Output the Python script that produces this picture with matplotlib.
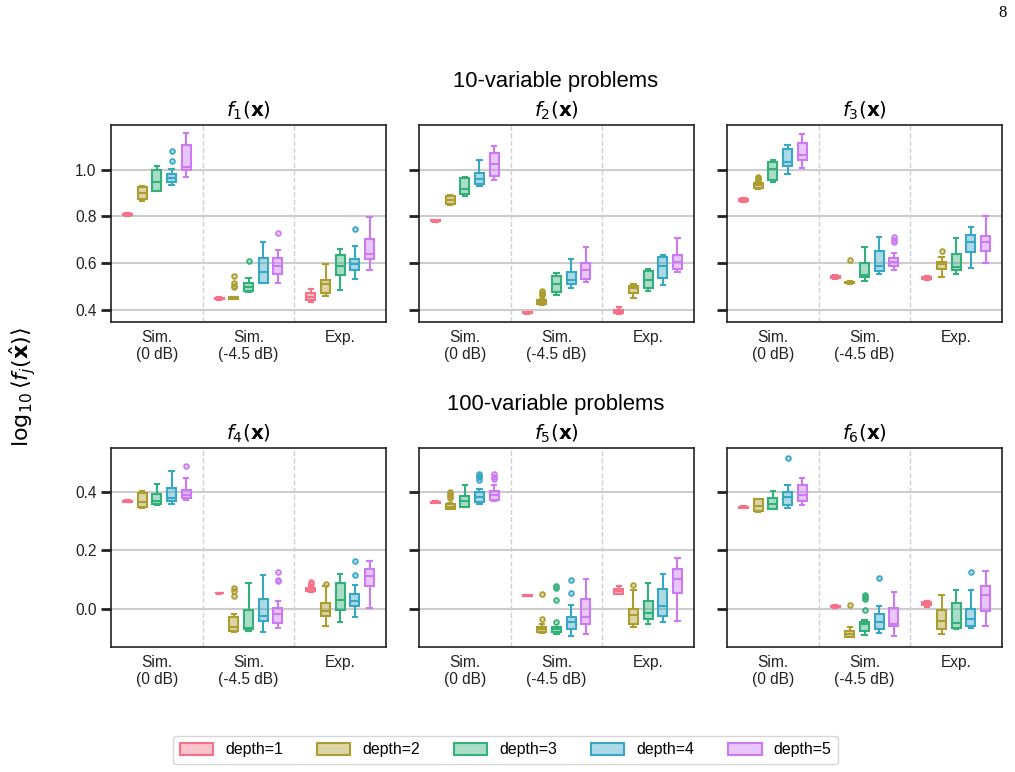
import matplotlib
matplotlib.use("Agg")
import matplotlib.pyplot as plt
from matplotlib.colors import to_rgba
from matplotlib.patches import Patch

plt.rcParams['font.family'] = ['Liberation Sans', 'DejaVu Sans']
plt.rcParams['mathtext.fontset'] = 'dejavusans'

groups = ["Sim.\n(0 dB)", "Sim.\n(-4.5 dB)", "Exp."]
depths = ["depth=1", "depth=2", "depth=3", "depth=4", "depth=5"]
colors = ['#f77189', '#ab9d30', '#33b07a', '#38a7c4', '#cc79f4']

# box stats per panel: [group][depth] -> (whislo, q1, med, q3, whishi)
f1_stats = [
    [(0.800, 0.805, 0.808, 0.812, 0.815), (0.868, 0.874, 0.900, 0.924, 0.931),
     (0.910, 0.910, 0.946, 0.997, 1.017), (0.933, 0.946, 0.964, 0.982, 1.003),
     (0.967, 1.000, 1.013, 1.106, 1.154)],
    [(0.445, 0.447, 0.450, 0.453, 0.455), (0.447, 0.449, 0.452, 0.456, 0.458),
     (0.477, 0.483, 0.500, 0.515, 0.539), (0.515, 0.515, 0.565, 0.622, 0.689),
     (0.517, 0.553, 0.590, 0.624, 0.657)],
    [(0.436, 0.443, 0.456, 0.472, 0.490), (0.462, 0.472, 0.510, 0.529, 0.596),
     (0.485, 0.550, 0.590, 0.636, 0.663), (0.532, 0.572, 0.596, 0.617, 0.675),
     (0.572, 0.620, 0.639, 0.703, 0.796)],
]
f1_fliers = {(0, 3): [1.037, 1.077], (1, 1): [0.500, 0.505, 0.515, 0.546],
             (1, 2): [0.610], (1, 4): [0.731], (2, 3): [0.746]}

f2_stats = [
    [(0.777, 0.779, 0.781, 0.783, 0.785), (0.847, 0.853, 0.871, 0.886, 0.891),
     (0.889, 0.897, 0.917, 0.964, 0.969), (0.929, 0.940, 0.960, 0.986, 1.039),
     (0.956, 0.974, 1.024, 1.072, 1.100)],
    [(0.385, 0.387, 0.389, 0.391, 0.393), (0.423, 0.425, 0.434, 0.443, 0.447),
     (0.465, 0.480, 0.510, 0.546, 0.560), (0.493, 0.510, 0.529, 0.565, 0.617),
     (0.519, 0.534, 0.572, 0.603, 0.669)],
    [(0.386, 0.390, 0.395, 0.400, 0.412), (0.453, 0.472, 0.493, 0.503, 0.510),
     (0.483, 0.493, 0.529, 0.567, 0.577), (0.506, 0.537, 0.590, 0.626, 0.636),
     (0.562, 0.575, 0.607, 0.636, 0.707)],
]
f2_fliers = {(1, 1): [0.465, 0.470, 0.475, 0.483]}

f3_stats = [
    [(0.862, 0.866, 0.871, 0.875, 0.878), (0.918, 0.920, 0.933, 0.943, 0.945),
     (0.949, 0.957, 1.003, 1.033, 1.040), (0.983, 1.014, 1.031, 1.089, 1.104),
     (1.007, 1.042, 1.060, 1.114, 1.151)],
    [(0.535, 0.538, 0.543, 0.547, 0.550), (0.514, 0.516, 0.519, 0.522, 0.524),
     (0.526, 0.540, 0.550, 0.600, 0.669), (0.555, 0.569, 0.589, 0.654, 0.714),
     (0.572, 0.590, 0.606, 0.623, 0.643)],
    [(0.528, 0.532, 0.538, 0.544, 0.548), (0.543, 0.576, 0.597, 0.607, 0.629),
     (0.555, 0.572, 0.586, 0.639, 0.709), (0.582, 0.647, 0.693, 0.722, 0.753),
     (0.603, 0.653, 0.689, 0.717, 0.804)],
]
f3_fliers = {(0, 1): [0.950, 0.958, 0.963, 0.969], (1, 1): [0.615],
             (1, 4): [0.689, 0.700, 0.712], (2, 1): [0.653]}

f4_stats = [
    [(0.364, 0.366, 0.368, 0.370, 0.372), (0.346, 0.349, 0.364, 0.397, 0.402),
     (0.355, 0.357, 0.368, 0.394, 0.428), (0.360, 0.368, 0.380, 0.414, 0.473),
     (0.372, 0.380, 0.391, 0.408, 0.446)],
    [(0.052, 0.053, 0.054, 0.055, 0.056), (-0.078, -0.076, -0.061, -0.027, -0.016),
     (-0.074, -0.070, -0.065, -0.005, 0.090), (-0.077, -0.042, -0.025, 0.034, 0.117),
     (-0.065, -0.048, -0.016, 0.005, 0.026)],
    [(0.058, 0.060, 0.066, 0.071, 0.078), (-0.057, -0.025, -0.006, 0.020, 0.080),
     (-0.044, -0.002, 0.032, 0.088, 0.120), (-0.029, 0.009, 0.028, 0.051, 0.083),
     (0.003, 0.079, 0.112, 0.136, 0.164)],
]
f4_fliers = {(0, 4): [0.489], (1, 1): [0.046, 0.060, 0.073],
             (1, 4): [0.094, 0.100, 0.128], (2, 0): [0.085, 0.092],
             (2, 1): [0.085], (2, 3): [0.117, 0.164]}

f5_stats = [
    [(0.362, 0.363, 0.365, 0.367, 0.368), (0.341, 0.343, 0.350, 0.358, 0.362),
     (0.349, 0.349, 0.369, 0.385, 0.425), (0.357, 0.364, 0.381, 0.398, 0.411),
     (0.368, 0.372, 0.389, 0.403, 0.423)],
    [(0.044, 0.045, 0.046, 0.047, 0.048), (-0.082, -0.080, -0.070, -0.063, -0.051),
     (-0.085, -0.077, -0.068, -0.063, -0.060), (-0.091, -0.068, -0.045, -0.029, 0.015),
     (-0.084, -0.053, -0.027, 0.034, 0.103)],
    [(0.050, 0.052, 0.060, 0.068, 0.080), (-0.063, -0.053, -0.019, 0.000, 0.066),
     (-0.053, -0.034, -0.014, 0.026, 0.090), (-0.045, -0.025, 0.011, 0.069, 0.120),
     (-0.040, 0.054, 0.103, 0.136, 0.173)],
]
f5_fliers = {(0, 1): [0.378, 0.385, 0.392, 0.398], (0, 3): [0.440, 0.450, 0.455, 0.462],
             (0, 4): [0.445, 0.452, 0.462], (1, 1): [-0.033, 0.051],
             (1, 2): [-0.045, 0.029, 0.070, 0.077], (1, 3): [0.055, 0.100],
             (2, 1): [0.083]}

f6_stats = [
    [(0.344, 0.346, 0.348, 0.350, 0.352), (0.333, 0.335, 0.352, 0.375, 0.377),
     (0.341, 0.343, 0.360, 0.380, 0.403), (0.346, 0.355, 0.381, 0.398, 0.423),
     (0.354, 0.369, 0.391, 0.425, 0.449)],
    [(0.004, 0.006, 0.009, 0.011, 0.013), (-0.096, -0.095, -0.084, -0.076, -0.060),
     (-0.090, -0.074, -0.053, -0.044, -0.037), (-0.083, -0.068, -0.045, -0.017, 0.010),
     (-0.093, -0.059, -0.051, 0.003, 0.058)],
    [(0.008, 0.012, 0.019, 0.024, 0.026), (-0.084, -0.070, -0.042, -0.005, 0.049),
     (-0.070, -0.065, -0.048, 0.022, 0.066), (-0.066, -0.057, -0.033, 0.001, 0.066),
     (-0.057, -0.008, 0.049, 0.080, 0.131)],
]
f6_fliers = {(0, 3): [0.516], (1, 1): [0.015], (1, 2): [-0.005, 0.035, 0.042, 0.049],
             (1, 3): [0.105], (2, 3): [0.126]}

panels = [
    (r"$f_1(\mathbf{x})$", f1_stats, f1_fliers),
    (r"$f_2(\mathbf{x})$", f2_stats, f2_fliers),
    (r"$f_3(\mathbf{x})$", f3_stats, f3_fliers),
    (r"$f_4(\mathbf{x})$", f4_stats, f4_fliers),
    (r"$f_5(\mathbf{x})$", f5_stats, f5_fliers),
    (r"$f_6(\mathbf{x})$", f6_stats, f6_fliers),
]

fig = plt.figure(figsize=(10.15, 7.72), dpi=100)

lefts = [0.1094, 0.4128, 0.7163]
rows = [(0.5829, 0.2552, (0.35, 1.19), [0.4, 0.6, 0.8, 1.0]),
        (0.1619, 0.2578, (-0.13, 0.55), [0.0, 0.2, 0.4])]
dodge = 0.16

for i, (title, stats, fliers) in enumerate(panels):
    r, c = divmod(i, 3)
    bottom, height, ylim, yticks = rows[r]
    ax = fig.add_axes([lefts[c], bottom, 0.2709, height])
    ax.set_axisbelow(True)

    for g in range(3):
        for d in range(5):
            lo, q1, med, q3, hi = stats[g][d]
            st = dict(whislo=lo, q1=q1, med=med, q3=q3, whishi=hi,
                      fliers=fliers.get((g, d), []))
            col = colors[d]
            light = to_rgba(col, 0.42)
            ax.bxp([st], positions=[g + (d - 2) * dodge], widths=0.1,
                   capwidths=0.05, patch_artist=True, manage_ticks=False,
                   boxprops=dict(facecolor=light, edgecolor=col, lw=1.5),
                   medianprops=dict(color=col, lw=1.5),
                   whiskerprops=dict(color=col, lw=1.5),
                   capprops=dict(color=col, lw=1.5),
                   flierprops=dict(marker='o', markersize=3.5,
                                   markerfacecolor=light, markeredgecolor=col,
                                   markeredgewidth=1.2))

    for yt in yticks:
        ax.axhline(yt, color='#cccccc', lw=1.5, zorder=0)
    for xs in (0.5, 1.5):
        ax.axvline(xs, color='#d0d0d0', lw=1, ls='--', zorder=0)

    ax.set_xlim(-0.5, 2.5)
    ax.set_ylim(*ylim)
    ax.set_xticks(range(3))
    ax.set_xticklabels(groups, fontsize=11.2, color='#222222', linespacing=1.15)
    ax.tick_params(axis='x', length=0, pad=6)
    ax.set_yticks(yticks)
    ax.tick_params(axis='y', length=7, width=2, color='#222222',
                   labelsize=11.2, labelcolor='#222222')
    if c > 0:
        ax.set_yticklabels([])
    else:
        ax.set_yticklabels([f"{v:.1f}" for v in yticks])
    for s in ax.spines.values():
        s.set_color('#222222')
        s.set_linewidth(1.2)
    ax.set_title(title, fontsize=14.3, pad=6)

fig.text(0.547, 0.895, "10-variable problems", ha='center', va='center', fontsize=15.8)
fig.text(0.547, 0.476, "100-variable problems", ha='center', va='center', fontsize=15.8)
fig.text(0.022, 0.499, r"$\log_{10}\langle f_j(\hat{\mathbf{x}})\rangle$",
         rotation=90, ha='center', va='center', fontsize=16)
fig.text(0.988, 0.983, "8", ha='center', va='center', fontsize=12,
         family=['Liberation Serif', 'DejaVu Serif'])

handles = [Patch(facecolor=to_rgba(col, 0.42), edgecolor=col, lw=1.5) for col in colors]
fig.legend(handles, depths, loc='center', bbox_to_anchor=(0.498, 0.0285), ncol=5,
           fontsize=11.4, handlelength=2.1, handleheight=0.8, handletextpad=0.76,
           columnspacing=2.15, frameon=True, edgecolor='#cccccc', fancybox=True)

fig.savefig("out.png", dpi=100)
